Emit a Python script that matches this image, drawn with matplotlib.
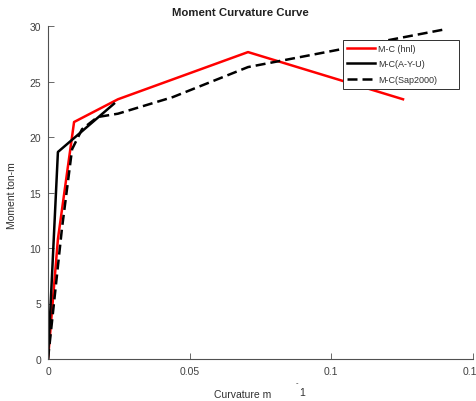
import matplotlib
matplotlib.use("Agg")
import matplotlib.pyplot as plt
from matplotlib.patches import Rectangle

plt.rcParams["font.family"] = ["Liberation Sans", "DejaVu Sans"]

# ---- data ----
hnl_curv = [0.0, 0.0035, 0.0092, 0.0247, 0.0706, 0.1253]
hnl_mom = [0.0, 10.8, 21.35, 23.4, 27.65, 23.4]

ayu_curv = [0.0, 0.0035, 0.0233]
ayu_mom = [0.0, 18.65, 23.0]

sap_curv = [0.0, 0.0049, 0.0085, 0.012, 0.0175, 0.0247, 0.0441, 0.0706, 0.1401]
sap_mom = [0.0, 11.7, 18.9, 20.7, 21.8, 22.1, 23.6, 26.3, 29.7]

xticks = [0, 0.05, 0.1, 0.15]
xticklabels = ["0", "0.05", "0.1", "0.15"]
yticks = [0, 5, 10, 15, 20, 25, 30]

AX_C = "#505050"
TXT_C = "#303030"

fig = plt.figure(figsize=(4.76, 4.02), dpi=100)
ax = fig.add_axes([48 / 476, 42 / 402, 425 / 476, 333 / 402])

ax.plot(hnl_curv, hnl_mom, color="#ff0000", lw=1.8, label="M-C (hnl)")
ax.plot(ayu_curv, ayu_mom, color="black", lw=1.8, label="M-C(A-Y-U)")
ax.plot(sap_curv, sap_mom, color="black", lw=1.8, ls="--", dashes=(4, 2),
        label="M-C(Sap2000)")

ax.set_xlim(0, 0.15)
ax.set_ylim(0, 30)
ax.set_xticks(xticks)
ax.set_xticklabels(xticklabels)
ax.set_yticks(yticks)
ax.tick_params(direction="in", length=4, width=0.6, colors=AX_C,
               labelsize=7.5, labelcolor="#404040", pad=5)
for s in ("top", "right"):
    ax.spines[s].set_visible(False)
for s in ("left", "bottom"):
    ax.spines[s].set_color(AX_C)
    ax.spines[s].set_linewidth(0.8)
ax.xaxis.get_majorticklabels()[-1].set_clip_on(False)

# legend box drawn separately so it can be wider than the entries
bx0, bx1 = (343 - 48) / 425, (459 - 48) / 425
by0, by1 = (360 - 90) / 333, (360 - 41) / 333
ax.add_patch(Rectangle((bx0, by0), bx1 - bx0, by1 - by0, transform=ax.transAxes,
                       facecolor="white", edgecolor="#303030", lw=0.7,
                       zorder=4.5, clip_on=False))
leg = ax.legend(loc="upper left", bbox_to_anchor=(bx0, by1), fontsize=6.5,
                frameon=False, handlelength=3.1, borderpad=0.45,
                labelspacing=0.7, handletextpad=0.35, borderaxespad=0)
leg.set_zorder(5)
for t in leg.get_texts():
    t.set_color(TXT_C)

fig.text(240 / 476, 1 - 13 / 402, "Moment Curvature Curve", ha="center",
         va="center", fontsize=8.2, fontweight="bold", color="#202020")
fig.text(12 / 476, 1 - 196 / 402, "Moment ton-m", rotation=90, ha="center",
         va="center", fontsize=7.5, color=TXT_C)
fig.text(243 / 476, 1 - 395 / 402, "Curvature m", ha="center", va="center",
         fontsize=7.5, color=TXT_C)
fig.text(302 / 476, 1 - 393 / 402, "1", ha="center", va="center",
         fontsize=7.5, color=TXT_C)
fig.text(297 / 476, 1 - 384 / 402, "-", ha="center", va="center",
         fontsize=5.5, color=TXT_C)

fig.savefig("out.png", dpi=100)
